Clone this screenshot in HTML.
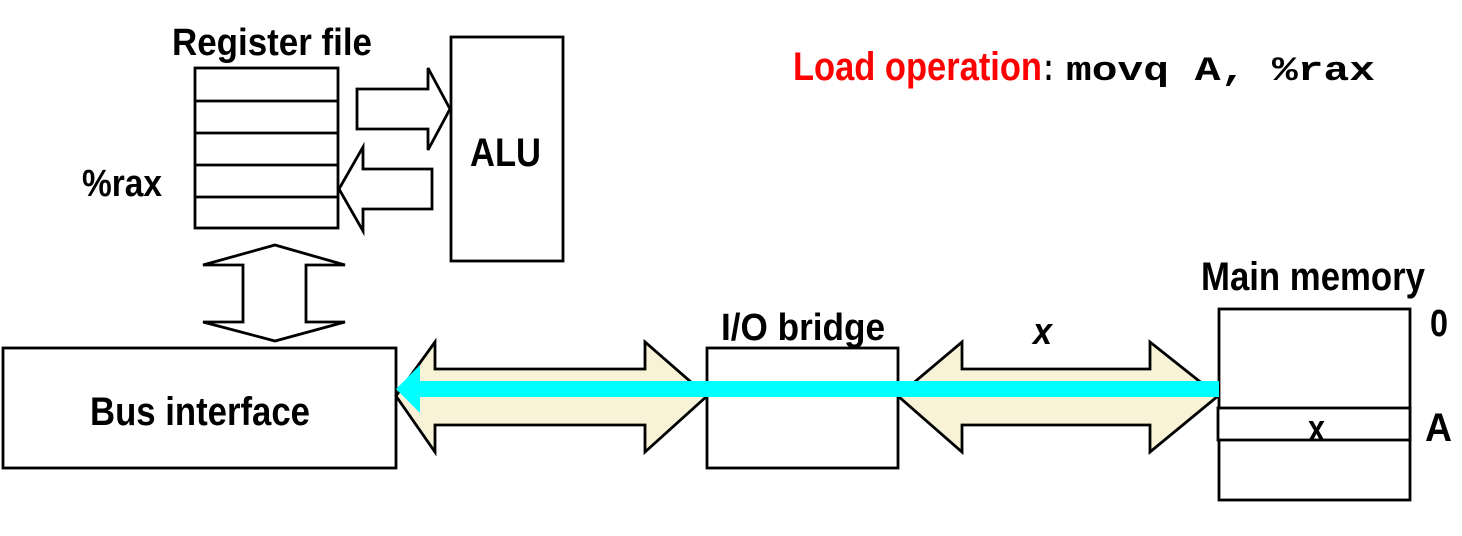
<!DOCTYPE html>
<html><head><meta charset="utf-8"><style>
html,body{margin:0;padding:0;background:#fff;}
svg{display:block;}
text{font-family:"Liberation Sans",sans-serif;font-weight:bold;}
</style></head><body>
<svg width="1462" height="536" viewBox="0 0 1462 536" xmlns="http://www.w3.org/2000/svg">
<g fill="none" stroke="#000" stroke-width="2.8">
<rect x="195" y="68" width="143" height="160" fill="#fff"/>
<line x1="195" y1="101" x2="338" y2="101"/>
<line x1="195" y1="133" x2="338" y2="133"/>
<line x1="195" y1="165" x2="338" y2="165"/>
<line x1="195" y1="197" x2="338" y2="197"/>
<rect x="451" y="37" width="112" height="224" fill="#fff"/>
<polygon points="357,89 428,89 428,68 450,109 428,150 428,129 357,129" fill="#fff"/>
<polygon points="432,169 363,169 363,147 339,189 363,231 363,209 432,209" fill="#fff"/>
<polygon points="275,245 345,265 306,265 306,322 345,322 275,341 203,322 243,322 243,265 203,265" fill="#fff"/>
<rect x="3" y="348" width="393" height="120" fill="#fff"/>
<rect x="707" y="348" width="191" height="120" fill="#fff"/>
<rect x="1219" y="309" width="191" height="191" fill="#fff"/>
<rect x="1218" y="408" width="192" height="32" fill="#fff"/>
<polygon points="396,396 435,342 435,369 645,369 645,342 707,396 645,452 645,425 435,425 435,452" fill="#f8f3d6"/>
<polygon points="898,396 962,342 962,369 1150,369 1150,342 1218,396 1150,452 1150,425 962,425 962,452" fill="#f8f3d6"/>
</g>
<rect x="415" y="381" width="804" height="16" fill="#00ffff"/>
<polygon points="396,389 420,365 420,413" fill="#00ffff"/>
<text x="172" y="55" font-size="38" textLength="200" lengthAdjust="spacingAndGlyphs">Register file</text>
<text x="470" y="166" font-size="40" textLength="71" lengthAdjust="spacingAndGlyphs">ALU</text>
<text x="82" y="196" font-size="38" textLength="80" lengthAdjust="spacingAndGlyphs">%rax</text>
<text x="90" y="425" font-size="40" textLength="220" lengthAdjust="spacingAndGlyphs">Bus interface</text>
<text x="721" y="340" font-size="38" textLength="164" lengthAdjust="spacingAndGlyphs">I/O bridge</text>
<text x="1033" y="344" font-size="38" font-style="italic" textLength="19" lengthAdjust="spacingAndGlyphs">x</text>
<text x="1201" y="290" font-size="40" textLength="224" lengthAdjust="spacingAndGlyphs">Main memory</text>
<text x="1430" y="336" font-size="38" textLength="18" lengthAdjust="spacingAndGlyphs">0</text>
<text x="1425" y="441" font-size="40" textLength="27" lengthAdjust="spacingAndGlyphs">A</text>
<text x="1308" y="441" font-size="38" textLength="17" lengthAdjust="spacingAndGlyphs">x</text>
<text x="793" y="80" font-size="40" fill="#ff0000" textLength="249" lengthAdjust="spacingAndGlyphs">Load operation</text>
<text x="1044" y="80" font-size="38" textLength="9" lengthAdjust="spacingAndGlyphs">:</text>
<text x="1066" y="80" font-size="34" style="font-family:'Liberation Mono',monospace;font-weight:bold" textLength="309" lengthAdjust="spacingAndGlyphs">movq A, %rax</text>
</svg>
</body></html>
